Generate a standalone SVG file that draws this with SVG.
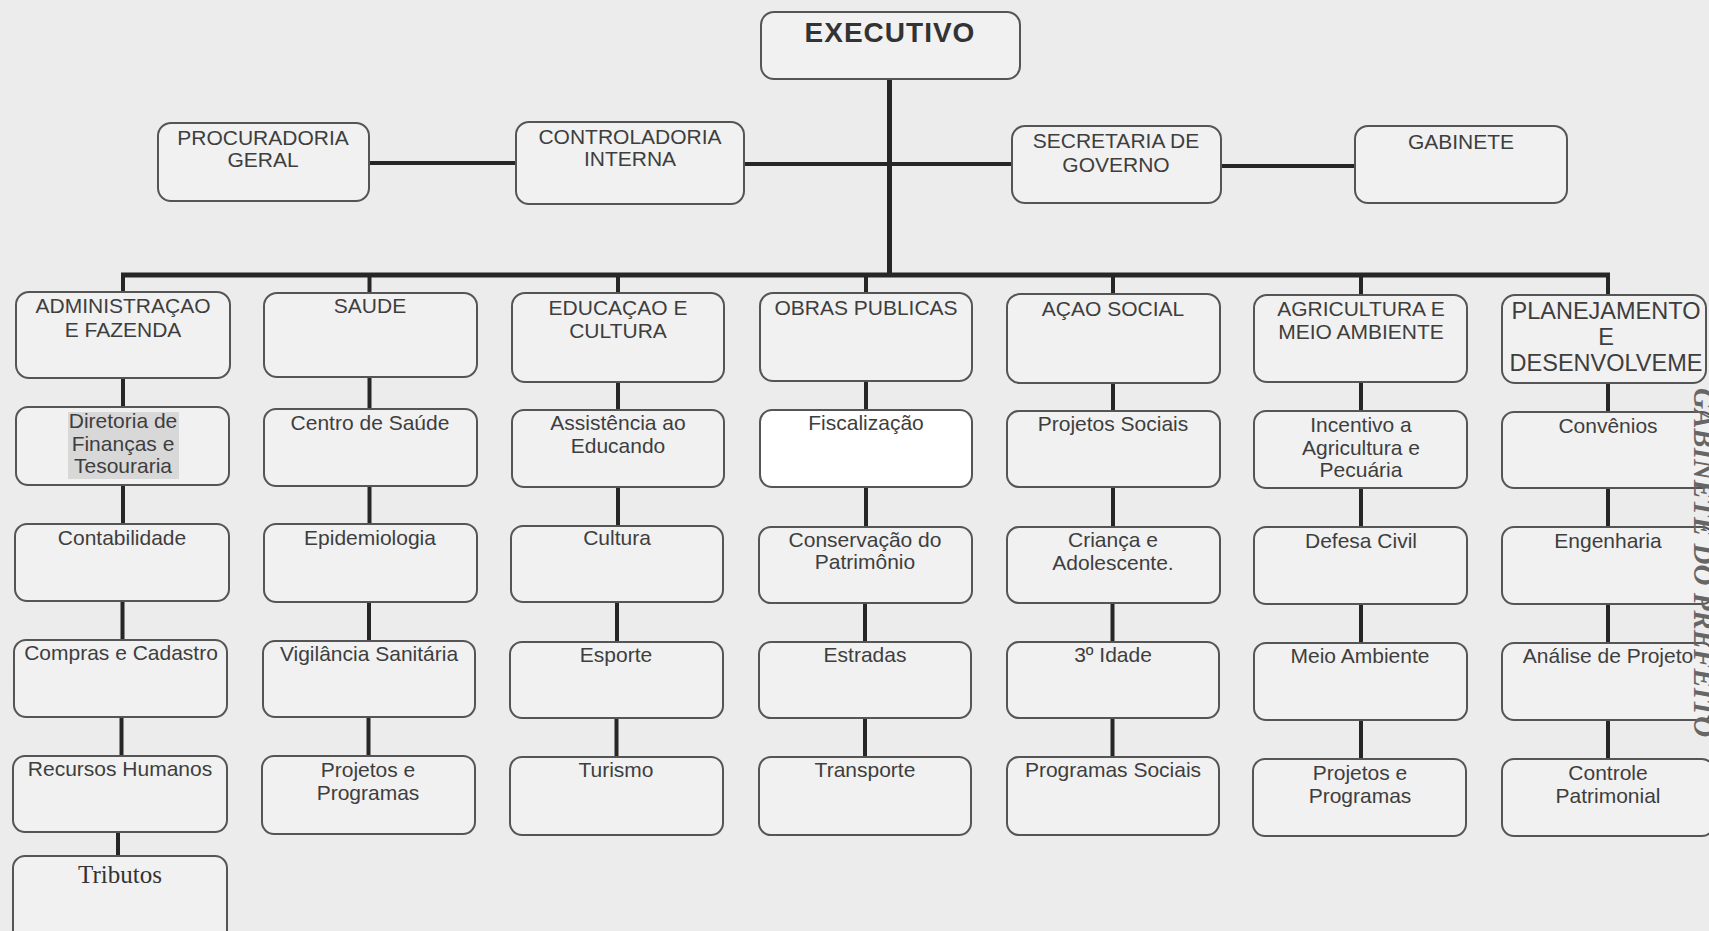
<svg xmlns="http://www.w3.org/2000/svg" width="1709" height="931" viewBox="0 0 1709 931">
<style>
.bg{fill:#ececec}
.box{fill:#f1f1f1;stroke:#555;stroke-width:2}
.wbox{fill:#ffffff;stroke:#555;stroke-width:2}
.t{font-family:"Liberation Sans",Arial,sans-serif;font-size:21px;fill:#3e3e3e;text-anchor:middle}
.big{font-size:23.5px}
.ex{font-family:"Liberation Sans",Arial,sans-serif;font-size:28px;font-weight:bold;fill:#333;text-anchor:middle;letter-spacing:1px}
.serif{font-family:"Liberation Serif","Times New Roman",serif;font-size:25px;fill:#333;text-anchor:middle}
.side{font-family:"Liberation Serif","Times New Roman",serif;font-size:29px;font-weight:bold;font-style:italic;fill:#666}
.c{stroke:#262626;stroke-width:4;fill:none}
.cb{stroke:#262626;stroke-width:5;fill:none}
</style>
<rect class="bg" x="0" y="0" width="1709" height="931"/>

<g id="connectors">
  <line class="cb" x1="889.5" y1="79" x2="889.5" y2="275"/>
  <line class="cb" x1="121" y1="275" x2="1610" y2="275"/>
  <line class="c" x1="369" y1="163" x2="516" y2="163"/>
  <line class="c" x1="744" y1="164" x2="1012" y2="164"/>
  <line class="c" x1="1221" y1="166" x2="1355" y2="166"/>
  <!-- col1 -->
  <line class="c" x1="123" y1="275" x2="123" y2="292"/>
  <line class="c" x1="123" y1="378" x2="123" y2="407"/>
  <line class="c" x1="123" y1="485" x2="123" y2="524"/>
  <line class="c" x1="122.5" y1="601" x2="122.5" y2="640"/>
  <line class="c" x1="121.5" y1="717" x2="121.5" y2="756"/>
  <line class="c" x1="118" y1="832" x2="118" y2="856"/>
  <!-- col2 -->
  <line class="c" x1="369.5" y1="275" x2="369.5" y2="293"/>
  <line class="c" x1="369.5" y1="377" x2="369.5" y2="409"/>
  <line class="c" x1="369.5" y1="486" x2="369.5" y2="524"/>
  <line class="c" x1="369" y1="602" x2="369" y2="641"/>
  <line class="c" x1="368.5" y1="717" x2="368.5" y2="756"/>
  <!-- col3 -->
  <line class="c" x1="618" y1="275" x2="618" y2="293"/>
  <line class="c" x1="618" y1="382" x2="618" y2="410"/>
  <line class="c" x1="618" y1="487" x2="618" y2="526"/>
  <line class="c" x1="617" y1="602" x2="617" y2="642"/>
  <line class="c" x1="616.5" y1="718" x2="616.5" y2="757"/>
  <!-- col4 -->
  <line class="c" x1="866" y1="275" x2="866" y2="293"/>
  <line class="c" x1="866" y1="381" x2="866" y2="410"/>
  <line class="c" x1="866" y1="487" x2="866" y2="527"/>
  <line class="c" x1="865" y1="603" x2="865" y2="642"/>
  <line class="c" x1="865" y1="718" x2="865" y2="757"/>
  <!-- col5 -->
  <line class="c" x1="1113" y1="275" x2="1113" y2="294"/>
  <line class="c" x1="1113" y1="383" x2="1113" y2="411"/>
  <line class="c" x1="1113" y1="487" x2="1113" y2="527"/>
  <line class="c" x1="1112.5" y1="603" x2="1112.5" y2="642"/>
  <line class="c" x1="1112.5" y1="718" x2="1112.5" y2="757"/>
  <!-- col6 -->
  <line class="c" x1="1361" y1="275" x2="1361" y2="295"/>
  <line class="c" x1="1361" y1="382" x2="1361" y2="411"/>
  <line class="c" x1="1361" y1="488" x2="1361" y2="527"/>
  <line class="c" x1="1361" y1="604" x2="1361" y2="643"/>
  <line class="c" x1="1361" y1="720" x2="1361" y2="759"/>
  <!-- col7 -->
  <line class="c" x1="1608" y1="275" x2="1608" y2="295"/>
  <line class="c" x1="1608" y1="383" x2="1608" y2="412"/>
  <line class="c" x1="1608" y1="488" x2="1608" y2="527"/>
  <line class="c" x1="1608" y1="604" x2="1608" y2="643"/>
  <line class="c" x1="1608" y1="720" x2="1608" y2="759"/>
</g>

<g id="executivo"><rect class="box" x="761" y="12" width="259" height="67" rx="13"/><text class="ex" x="890" y="42">EXECUTIVO</text></g>
<g id="procuradoria"><rect class="box" x="158" y="123" width="211" height="78" rx="13"/><text class="t" x="263" y="145">PROCURADORIA</text><text class="t" x="263" y="167">GERAL</text></g>
<g id="controladoria"><rect class="box" x="516" y="122" width="228" height="82" rx="13"/><text class="t" x="630" y="144">CONTROLADORIA</text><text class="t" x="630" y="166">INTERNA</text></g>
<g id="secretaria"><rect class="box" x="1012" y="126" width="209" height="77" rx="13"/><text class="t" x="1116" y="148">SECRETARIA DE</text><text class="t" x="1116" y="172">GOVERNO</text></g>
<g id="gabinete"><rect class="box" x="1355" y="126" width="212" height="77" rx="13"/><text class="t" x="1461" y="149">GABINETE</text></g>

<!-- Column 1 -->
<g id="administracao"><rect class="box" x="16" y="292" width="214" height="86" rx="13"/><text class="t" x="123" y="313">ADMINISTRAÇAO</text><text class="t" x="123" y="337">E FAZENDA</text></g>
<g id="diretoria"><rect class="box" x="16" y="407" width="213" height="78" rx="12"/><rect x="68" y="412" width="111" height="67" fill="#d8d8d8"/><text class="t" x="123" y="428">Diretoria de</text><text class="t" x="123" y="451">Finanças e</text><text class="t" x="123" y="473">Tesouraria</text></g>
<g id="contabilidade"><rect class="box" x="15" y="524" width="214" height="77" rx="12"/><text class="t" x="122" y="545">Contabilidade</text></g>
<g id="compras"><rect class="box" x="14" y="640" width="213" height="77" rx="12"/><text class="t" x="121" y="660">Compras e Cadastro</text></g>
<g id="recursos"><rect class="box" x="13" y="756" width="214" height="76" rx="12"/><text class="t" x="120" y="776">Recursos Humanos</text></g>
<g id="tributos"><rect class="box" x="13" y="856" width="214" height="90" rx="12"/><text class="serif" x="120" y="883">Tributos</text></g>

<!-- Column 2 -->
<g id="saude"><rect class="box" x="264" y="293" width="213" height="84" rx="13"/><text class="t" x="370" y="313">SAUDE</text></g>
<g id="centro-saude"><rect class="box" x="264" y="409" width="213" height="77" rx="12"/><text class="t" x="370" y="430">Centro de Saúde</text></g>
<g id="epidemiologia"><rect class="box" x="264" y="524" width="213" height="78" rx="12"/><text class="t" x="370" y="545">Epidemiologia</text></g>
<g id="vigilancia"><rect class="box" x="263" y="641" width="212" height="76" rx="12"/><text class="t" x="369" y="661">Vigilância Sanitária</text></g>
<g id="projetos-saude"><rect class="box" x="262" y="756" width="213" height="78" rx="12"/><text class="t" x="368" y="777">Projetos e</text><text class="t" x="368" y="800">Programas</text></g>

<!-- Column 3 -->
<g id="educacao"><rect class="box" x="512" y="293" width="212" height="89" rx="13"/><text class="t" x="618" y="315">EDUCAÇAO E</text><text class="t" x="618" y="338">CULTURA</text></g>
<g id="assistencia"><rect class="box" x="512" y="410" width="212" height="77" rx="12"/><text class="t" x="618" y="430">Assistência ao</text><text class="t" x="618" y="453">Educando</text></g>
<g id="cultura"><rect class="box" x="511" y="526" width="212" height="76" rx="12"/><text class="t" x="617" y="545">Cultura</text></g>
<g id="esporte"><rect class="box" x="510" y="642" width="213" height="76" rx="12"/><text class="t" x="616" y="662">Esporte</text></g>
<g id="turismo"><rect class="box" x="510" y="757" width="213" height="78" rx="12"/><text class="t" x="616" y="777">Turismo</text></g>

<!-- Column 4 -->
<g id="obras"><rect class="box" x="760" y="293" width="212" height="88" rx="13"/><text class="t" x="866" y="315">OBRAS PUBLICAS</text></g>
<g id="fiscalizacao"><rect class="wbox" x="760" y="410" width="212" height="77" rx="12"/><text class="t" x="866" y="430">Fiscalização</text></g>
<g id="conservacao"><rect class="box" x="759" y="527" width="213" height="76" rx="12"/><text class="t" x="865" y="547">Conservação do</text><text class="t" x="865" y="569">Patrimônio</text></g>
<g id="estradas"><rect class="box" x="759" y="642" width="212" height="76" rx="12"/><text class="t" x="865" y="662">Estradas</text></g>
<g id="transporte"><rect class="box" x="759" y="757" width="212" height="78" rx="12"/><text class="t" x="865" y="777">Transporte</text></g>

<!-- Column 5 -->
<g id="acao-social"><rect class="box" x="1007" y="294" width="213" height="89" rx="13"/><text class="t" x="1113" y="316">AÇAO SOCIAL</text></g>
<g id="projetos-sociais"><rect class="box" x="1007" y="411" width="213" height="76" rx="12"/><text class="t" x="1113" y="431">Projetos Sociais</text></g>
<g id="crianca"><rect class="box" x="1007" y="527" width="213" height="76" rx="12"/><text class="t" x="1113" y="547">Criança e</text><text class="t" x="1113" y="570">Adolescente.</text></g>
<g id="terceira-idade"><rect class="box" x="1007" y="642" width="212" height="76" rx="12"/><text class="t" x="1113" y="662">3º Idade</text></g>
<g id="programas-sociais"><rect class="box" x="1007" y="757" width="212" height="78" rx="12"/><text class="t" x="1113" y="777">Programas Sociais</text></g>

<!-- Column 6 -->
<g id="agricultura"><rect class="box" x="1254" y="295" width="213" height="87" rx="13"/><text class="t" x="1361" y="316">AGRICULTURA E</text><text class="t" x="1361" y="339">MEIO AMBIENTE</text></g>
<g id="incentivo"><rect class="box" x="1254" y="411" width="213" height="77" rx="12"/><text class="t" x="1361" y="432">Incentivo a</text><text class="t" x="1361" y="455">Agricultura e</text><text class="t" x="1361" y="477">Pecuária</text></g>
<g id="defesa-civil"><rect class="box" x="1254" y="527" width="213" height="77" rx="12"/><text class="t" x="1361" y="548">Defesa Civil</text></g>
<g id="meio-ambiente"><rect class="box" x="1254" y="643" width="213" height="77" rx="12"/><text class="t" x="1360" y="663">Meio Ambiente</text></g>
<g id="projetos-agri"><rect class="box" x="1253" y="759" width="213" height="77" rx="12"/><text class="t" x="1360" y="780">Projetos e</text><text class="t" x="1360" y="803">Programas</text></g>

<!-- Column 7 -->
<g id="planejamento"><rect class="box" x="1502" y="295" width="204" height="88" rx="13"/><text class="t big" x="1606" y="319">PLANEJAMENTO</text><text class="t big" x="1606" y="345">E</text><text class="t big" x="1606" y="371">DESENVOLVEME</text></g>
<g id="convenios"><rect class="box" x="1502" y="412" width="212" height="76" rx="12"/><text class="t" x="1608" y="433">Convênios</text></g>
<g id="engenharia"><rect class="box" x="1502" y="527" width="212" height="77" rx="12"/><text class="t" x="1608" y="548">Engenharia</text></g>
<g id="analise"><rect class="box" x="1502" y="643" width="212" height="77" rx="12"/><text class="t" x="1608" y="663">Análise de Projeto</text></g>
<g id="controle"><rect class="box" x="1502" y="759" width="212" height="77" rx="12"/><text class="t" x="1608" y="780">Controle</text><text class="t" x="1608" y="803">Patrimonial</text></g>

<text class="side" transform="translate(1694,388) rotate(90)">GABINETE DO PREFEITO</text>
</svg>
